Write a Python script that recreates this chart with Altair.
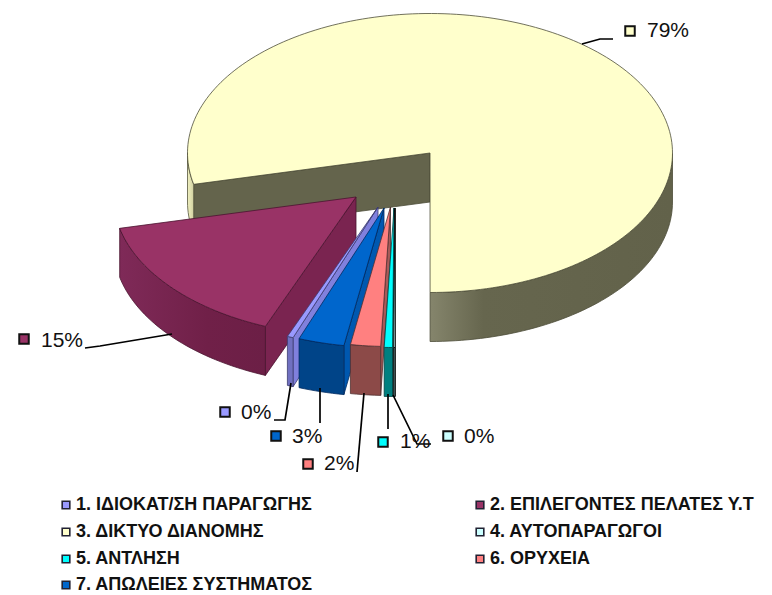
import math
import altair as alt
import pandas as pd

# ---- data: shares of each category (percent) and their labels
names = ["1. ΙΔΙΟΚΑΤ/ΣΗ ΠΑΡΑΓΩΓΗΣ", "2. ΕΠΙΛΕΓΟΝΤΕΣ ΠΕΛΑΤΕΣ Υ.Τ", "3. ΔΙΚΤΥΟ ΔΙΑΝΟΜΗΣ",
         "4. ΑΥΤΟΠΑΡΑΓΩΓΟΙ", "5. ΑΝΤΛΗΣΗ", "6. ΟΡΥΧΕΙΑ", "7. ΑΠΩΛΕΙΕΣ ΣΥΣΤΗΜΑΤΟΣ"]
values = [0.4, 15.3, 78.6, 0.1, 0.55, 2.0, 3.05]
labels = ["0%", "15%", "79%", "0%", "1%", "2%", "3%"]
tops = ["#9999ff", "#993366", "#ffffcc", "#ccffff", "#00ffff", "#ff8080", "#0066cc"]
walls = ["#8080dd", "#7a2450", "#64644c", "#7fa0a0", "#00a0a0", "#a85a58", "#0058b0"]
sides = ["#7070c0", "#702048", "#64644c", "#608080", "#008080", "#8c4a48", "#004488"]
edges = ["#3c3c70", "#4a1430", "#4c4c38", "#000000", "#004040", "#503030", "#002a60"]

# ---- layout of the drawing (image pixels)
CX, CY, RX, RY, DEPTH = 430.5, 153.5, 242.5, 139.5, 49
START = 110.5
apex_x = [378, 356, 430, 395, 394, 390.5, 384]
apex_y = [207, 197, 153, 208, 208, 207, 208]
paint_order = [2, 1, 0, 6, 5, 4, 3]
W, H = 756, 587

x_scale = alt.Scale(domain=[8, 8 + W], range=[0, W], nice=False, zero=False)
y_scale = alt.Scale(domain=[8, 8 + H], range=[0, H], nice=False, zero=False)
X = alt.X("x:Q", scale=x_scale, axis=None)
Y = alt.Y("y:Q", scale=y_scale, axis=None)


def pt(ax, ay, t):
    r = math.radians(t)
    return ax + RX * math.cos(r), ay + RY * math.sin(r)


def arc(ax, ay, a, b, dy=0):
    n = max(2, int(abs(b - a) / 1.5) + 2)
    return [(pt(ax, ay, a + (b - a) * i / (n - 1))[0],
             pt(ax, ay, a + (b - a) * i / (n - 1))[1] + dy) for i in range(n)]


def poly(points, fill, stroke, sw=0.8):
    df = pd.DataFrame(points, columns=["x", "y"])
    df["i"] = range(len(df))
    return alt.Chart(df).mark_line(
        interpolate="linear-closed", fill=fill, stroke=stroke, strokeWidth=sw, strokeJoin="round"
    ).encode(x=X, y=Y, order="i:Q")


layers = []
bounds = {}
angle = START
for i, v in enumerate(values):
    bounds[i] = (angle, angle + v * 3.6)
    angle += v * 3.6

yellow_front = alt.Gradient(
    gradient="linear", x1=0, x2=1, y1=0, y2=0,
    stops=[alt.GradientStop(offset=0, color="#85856c"),
           alt.GradientStop(offset=0.22, color="#66664e"),
           alt.GradientStop(offset=1, color="#62624a")])
strip = alt.Gradient(
    gradient="linear", x1=0, x2=1, y1=0, y2=0,
    stops=[alt.GradientStop(offset=0, color="#f0f0c0"),
           alt.GradientStop(offset=1, color="#d0d0a0")])
maroon_side = alt.Gradient(
    gradient="linear", x1=0, x2=1, y1=0, y2=0,
    stops=[alt.GradientStop(offset=0, color="#7f2a58"),
           alt.GradientStop(offset=0.6, color="#702048"),
           alt.GradientStop(offset=1, color="#6c1f46")])

for i in paint_order:
    a, b = bounds[i]
    ax, ay = apex_x[i], apex_y[i]
    if i == 2:
        # cut wall facing the viewer, left strip, front rim
        start_pt = pt(ax, ay, a)
        layers.append(poly([(ax, ay), start_pt, (start_pt[0], start_pt[1] + DEPTH), (ax, ay + DEPTH)],
                           walls[i], edges[i]))
        layers.append(poly(arc(ax, ay, a, 180) + arc(ax, ay, 180, a, DEPTH), strip, "#55553c"))
        layers.append(poly(arc(ax, ay, 360, b) + arc(ax, ay, b, 360, DEPTH), yellow_front, edges[i]))
        layers.append(poly([(ax, ay)] + arc(ax, ay, a, b), tops[i], edges[i]))
        continue
    # wall of the clockwise-first edge, rim, top face
    p = pt(ax, ay, a)
    layers.append(poly([(ax, ay), p, (p[0], p[1] + DEPTH), (ax, ay + DEPTH)], walls[i], edges[i]))
    layers.append(poly(arc(ax, ay, a, b) + arc(ax, ay, b, a, DEPTH),
                       maroon_side if i == 1 else sides[i], edges[i]))
    layers.append(poly([(ax, ay)] + arc(ax, ay, a, b), tops[i], edges[i]))

# ---- leader lines
leaders = [
    [(582, 44), (600, 39), (613, 39)],
    [(172, 334), (100, 346), (85, 348)],
    [(291, 383), (285, 420), (274, 420)],
    [(320, 388), (320, 423)],
    [(364, 393), (357, 472)],
    [(388, 394), (388, 429)],
    [(393, 395), (417, 444), (431, 444)],
]
rows = []
for g, line in enumerate(leaders):
    for k, (lx, ly) in enumerate(line):
        rows.append({"g": g, "k": k, "x": lx, "y": ly})
layers.append(alt.Chart(pd.DataFrame(rows)).mark_line(color="black", strokeWidth=1.7).encode(
    x=X, y=Y, detail="g:N", order="k:Q"))

# ---- percentage labels with their keys
lab_idx = [2, 1, 0, 6, 5, 4, 3]
lab_mx = [630, 24, 225, 276, 308, 383, 448]
lab_my = [31, 339, 412, 436, 464, 442, 436]
lab_tx = [647, 41, 241, 292, 324, 400, 464]
lab_ty = [31, 341, 413, 437, 464, 442, 437]
lab = pd.DataFrame({
    "x": lab_mx, "y": lab_my, "tx": lab_tx, "ty": lab_ty,
    "text": [labels[i] for i in lab_idx],
    "fill": [tops[i] for i in lab_idx],
})
layers.append(alt.Chart(lab).mark_square(size=90, stroke="#111111", strokeWidth=2, opacity=1).encode(
    x=X, y=Y, fill=alt.Fill("fill:N", scale=None, legend=None)))
layers.append(alt.Chart(lab).mark_text(align="left", baseline="middle", font="Liberation Sans",
                                       fontSize=21, color="#111111").encode(
    x=alt.X("tx:Q", scale=x_scale, axis=None), y=alt.Y("ty:Q", scale=y_scale, axis=None), text="text:N"))

# ---- legend drawn as keys and text
leg_x = [66, 480, 66, 480, 66, 480, 66]
leg_y = [505, 505, 532, 532, 559, 559, 585]
leg = pd.DataFrame({
    "x": leg_x, "y": leg_y, "tx": [v + 10 for v in leg_x],
    "text": names, "fill": tops,
})
layers.append(alt.Chart(leg).mark_square(size=58, stroke="#222233", strokeWidth=1.6, opacity=1).encode(
    x=X, y=Y, fill=alt.Fill("fill:N", scale=None, legend=None)))
layers.append(alt.Chart(leg).mark_text(align="left", baseline="middle", font="Liberation Sans",
                                       fontSize=18, fontWeight="bold", color="#111111").encode(
    x=alt.X("tx:Q", scale=x_scale, axis=None), y=alt.Y("y:Q", scale=y_scale, axis=None), text="text:N"))

chart = alt.layer(*layers).properties(
    width=W, height=H, padding=0, autosize=alt.AutoSizeParams(type="none"), background="white"
).configure_view(stroke=None)

chart.save("out.html", embed_options={"renderer": "svg", "actions": False})
